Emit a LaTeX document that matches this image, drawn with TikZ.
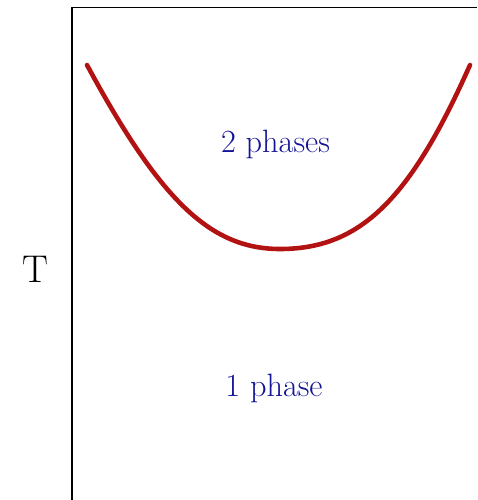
\documentclass[tikz,border=0pt]{standalone}
\usepackage{tikz}
\definecolor{curvered}{RGB}{178,18,18}
\definecolor{phaseblue}{RGB}{20,20,150}

\begin{document}
\begin{tikzpicture}[x=0.02cm,y=-0.02cm,
 lbl/.style={text=phaseblue,font=\fontsize{18.4}{20}\selectfont,anchor=base,inner sep=0pt},
 axis/.style={draw=black,line width=1.1pt}]
\useasboundingbox (0,0) rectangle (477,500);
\draw[axis](72,500)--(72,7.5)--(477,7.5);
% coexistence curve
\draw[curvered,line width=2.6pt,line cap=round](87,65)
 .. controls (160,200) and (210,249) .. (280,249)
 .. controls (360,249) and (410,200) .. (470,65);
\node[lbl](two) at (275.5,153){2 phases};
\node[lbl](one) at (274,396){1 phase};
\node[anchor=base,inner sep=0pt,font=\fontsize{22}{24}\selectfont](temp) at (35,282){T};
\end{tikzpicture}
\end{document}
